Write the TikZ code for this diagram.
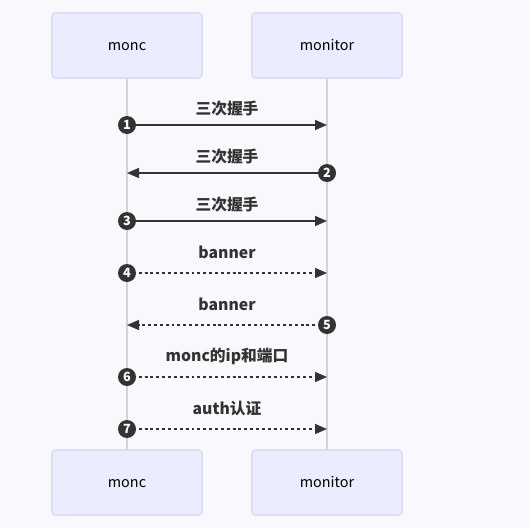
\documentclass[tikz,border=0pt]{standalone}
\usepackage{fontspec}
\setmainfont{Noto Sans CJK SC}
\usetikzlibrary{arrows.meta}
\definecolor{bgc}{HTML}{F8F9FC}
\definecolor{boxfill}{HTML}{ECECFF}
\definecolor{boxline}{HTML}{E0DCF8}
\definecolor{lifec}{HTML}{D3D3D6}
\definecolor{arrc}{HTML}{333333}
\tikzset{
  actor/.style={draw=boxline, line width=1.2pt, fill=boxfill, rounded corners=2.5pt,
    minimum width=112.5pt, minimum height=48.75pt, inner sep=0pt, text height=8pt, text depth=0pt,
    font=\fontsize{10.8}{12}\selectfont, text=black},
  life/.style={draw=lifec, line width=1pt},
  msg/.style={draw=arrc, line width=1.1pt, -{Triangle[length=9pt,width=7.5pt]}},
  dmsg/.style={msg, dash pattern=on 2.2pt off 2.2pt},
  num/.style={circle, fill=arrc, text=white, inner sep=0pt, minimum size=13.5pt, font=\fontsize{9.5}{10}\selectfont\bfseries},
  lbl/.style={font=\fontsize{11.8}{13}\selectfont\bfseries, text=arrc, inner sep=0pt},
}
\begin{document}
\begin{tikzpicture}[x=0.75pt,y=-0.75pt]
\fill[bgc] (0,0) rectangle (530,528);
\useasboundingbox (0,0) rectangle (530,528);
\coordinate (L1t) at (127,78);
\coordinate (L1b) at (127,450);
\coordinate (L2t) at (327,78);
\coordinate (L2b) at (327,450);
\draw[life] (L1t) -- (L1b);
\draw[life] (L2t) -- (L2b);
\node[actor] (a1) at (127,45.5) {monc};
\node[actor] (a2) at (327,45.5) {monitor};
\node[actor] (b1) at (127,482.5) {monc};
\node[actor] (b2) at (327,482.5) {monitor};
% messages
\coordinate (s1) at (127,125); \coordinate (e1) at (327,125);
\coordinate (s2) at (327,173); \coordinate (e2) at (127,173);
\coordinate (s3) at (127,221); \coordinate (e3) at (327,221);
\coordinate (s4) at (127,273); \coordinate (e4) at (327,273);
\coordinate (s5) at (327,325); \coordinate (e5) at (127,325);
\coordinate (s6) at (127,377); \coordinate (e6) at (327,377);
\coordinate (s7) at (127,429); \coordinate (e7) at (327,429);
\draw[msg] (s1) -- (e1);
\draw[msg] (s2) -- (e2);
\draw[msg] (s3) -- (e3);
\draw[dmsg] (s4) -- (e4);
\draw[dmsg] (s5) -- (e5);
\draw[dmsg] (s6) -- (e6);
\draw[dmsg] (s7) -- (e7);
\node[num] (n1) at (s1) {1};
\node[num] (n2) at (s2) {2};
\node[num] (n3) at (s3) {3};
\node[num] (n4) at (s4) {4};
\node[num] (n5) at (s5) {5};
\node[num] (n6) at (s6) {6};
\node[num] (n7) at (s7) {7};
\node[lbl] (t1) at (227,108.5) {三次握手};
\node[lbl] (t2) at (227,156.5) {三次握手};
\node[lbl] (t3) at (227,204.5) {三次握手};
\node[lbl] (t4) at (227,252.5) {banner};
\node[lbl] (t5) at (227,304.5) {banner};
\node[lbl] (t6) at (227,356.5) {monc的ip和端口};
\node[lbl] (t7) at (227,408.5) {auth认证};
\end{tikzpicture}
\end{document}
